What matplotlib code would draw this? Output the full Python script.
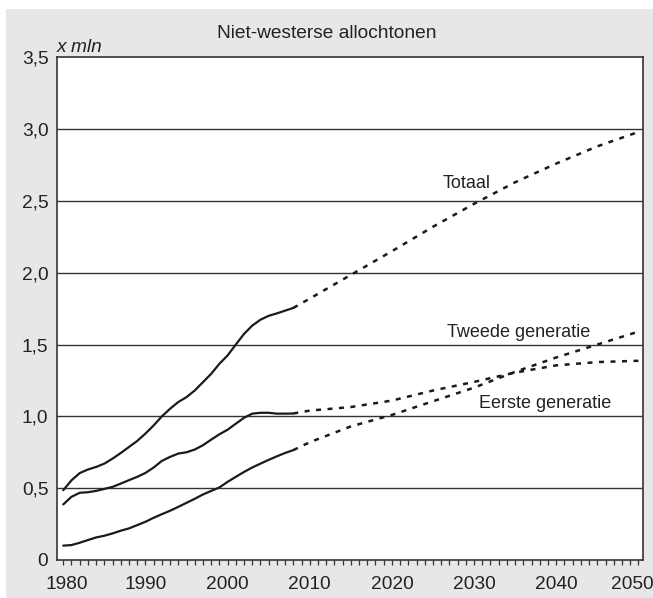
import matplotlib
matplotlib.use("Agg")
import matplotlib.pyplot as plt
from matplotlib.patches import Rectangle
from matplotlib.ticker import FixedLocator, MultipleLocator
from matplotlib.transforms import ScaledTranslation

plt.rcParams['font.family'] = ['Liberation Sans', 'DejaVu Sans']

# Data (x mln)
years_hist = [1980, 1981, 1982, 1983, 1984, 1985, 1986, 1987, 1988, 1989,
              1990, 1991, 1992, 1993, 1994, 1995, 1996, 1997, 1998, 1999,
              2000, 2001, 2002, 2003, 2004, 2005, 2006, 2007, 2008]
totaal_hist = [0.486, 0.555, 0.605, 0.630, 0.648, 0.671, 0.706, 0.745, 0.787, 0.829,
               0.880, 0.937, 1.000, 1.053, 1.100, 1.134, 1.180, 1.238, 1.296, 1.366,
               1.424, 1.500, 1.574, 1.632, 1.673, 1.700, 1.717, 1.736, 1.755]
eerste_hist = [0.387, 0.440, 0.468, 0.472, 0.481, 0.495, 0.509, 0.532, 0.556, 0.579,
               0.606, 0.644, 0.690, 0.718, 0.741, 0.750, 0.769, 0.799, 0.838, 0.875,
               0.907, 0.949, 0.990, 1.019, 1.025, 1.025, 1.019, 1.019, 1.020]
tweede_hist = [0.100, 0.104, 0.120, 0.139, 0.157, 0.169, 0.185, 0.204, 0.220, 0.243,
               0.266, 0.294, 0.319, 0.343, 0.370, 0.398, 0.426, 0.456, 0.481, 0.505,
               0.544, 0.579, 0.613, 0.644, 0.671, 0.697, 0.722, 0.745, 0.765]

years_proj = [2008, 2010, 2015, 2020, 2025, 2030, 2035, 2040, 2045, 2050]
totaal_proj = [1.755, 1.82, 1.985, 2.15, 2.32, 2.48, 2.63, 2.76, 2.88, 2.98]
eerste_proj = [1.020, 1.04, 1.065, 1.11, 1.18, 1.24, 1.305, 1.355, 1.378, 1.387]
tweede_proj = [0.765, 0.82, 0.93, 1.01, 1.105, 1.20, 1.31, 1.41, 1.50, 1.59]

x_ticks = [1980, 1990, 2000, 2010, 2020, 2030, 2040, 2050]
y_ticks = [0, 0.5, 1.0, 1.5, 2.0, 2.5, 3.0, 3.5]
y_tick_labels = ['0', '0,5', '1,0', '1,5', '2,0', '2,5', '3,0', '3,5']

ink = '#1a1a1a'
fig = plt.figure(figsize=(6.53, 5.98), dpi=100)
fig.patch.set_facecolor('white')
# grey panel behind the chart
fig.patches.append(Rectangle((6 / 653, 0), 1, 1 - 9 / 598, transform=fig.transFigure,
                             facecolor='#e7e7e9', edgecolor='none', zorder=-10))

ax = fig.add_axes([56.7 / 653, 1 - 560 / 598, (643.3 - 56.7) / 653, (560 - 57.3) / 598])
ax.set_facecolor('white')

# gridlines
for yv in y_ticks[1:-1]:
    ax.axhline(yv, color='#333333', lw=1.0, zorder=1)

dash = (0, (2.0, 2.6))
ax.plot(years_hist, totaal_hist, color=ink, lw=1.6, zorder=3, solid_capstyle='round')
ax.plot(years_hist, eerste_hist, color=ink, lw=1.6, zorder=3, solid_capstyle='round')
ax.plot(years_hist, tweede_hist, color=ink, lw=1.6, zorder=3, solid_capstyle='round')
ax.plot(years_proj, totaal_proj, color=ink, lw=1.8, ls=dash, zorder=3)
ax.plot(years_proj, eerste_proj, color=ink, lw=1.8, ls=dash, zorder=3)
ax.plot(years_proj, tweede_proj, color=ink, lw=1.8, ls=dash, zorder=3)

ax.set_xlim(1979.2, 2050.6)
ax.set_ylim(0, 3.5)

ax.xaxis.set_major_locator(FixedLocator(x_ticks))
ax.xaxis.set_minor_locator(MultipleLocator(1))
ax.set_xticklabels([str(x) for x in x_ticks])
ax.set_yticks(y_ticks)
ax.set_yticklabels(y_tick_labels)
ax.tick_params(axis='x', which='both', direction='out', length=3.5, width=0.9,
               color='#333333', labelsize=13.8, pad=8, labelcolor='#222222')
ax.tick_params(axis='y', length=0, labelsize=13.8, pad=6, labelcolor='#222222')
for s in ax.spines.values():
    s.set_color('#333333')
    s.set_linewidth(1.2)

# nudge end labels like the original
for lbl in ax.get_xticklabels():
    if lbl.get_text() == '2050':
        lbl.set_transform(lbl.get_transform() + ScaledTranslation(-0.065, 0, fig.dpi_scale_trans))
    if lbl.get_text() == '1980':
        lbl.set_transform(lbl.get_transform() + ScaledTranslation(0.03, 0, fig.dpi_scale_trans))

# series labels
ax.text(2029.1, 2.589, 'Totaal', ha='center', va='baseline', fontsize=13, color='#222222')
ax.text(2035.4, 1.553, 'Tweede generatie', ha='center', va='baseline', fontsize=13, color='#222222')
ax.text(2038.7, 1.059, 'Eerste generatie', ha='center', va='baseline', fontsize=13, color='#222222')

fig.text(326.7 / 653, 1 - 33 / 598, 'Niet-westerse allochtonen', ha='center', va='center',
         fontsize=13.8, color='#222222')
fig.text(56.7 / 653, 1 - 52 / 598, 'x mln', ha='left', va='baseline', fontsize=13.8,
         style='italic', color='#222222')

fig.savefig('out.png', dpi=100, facecolor=fig.get_facecolor())
